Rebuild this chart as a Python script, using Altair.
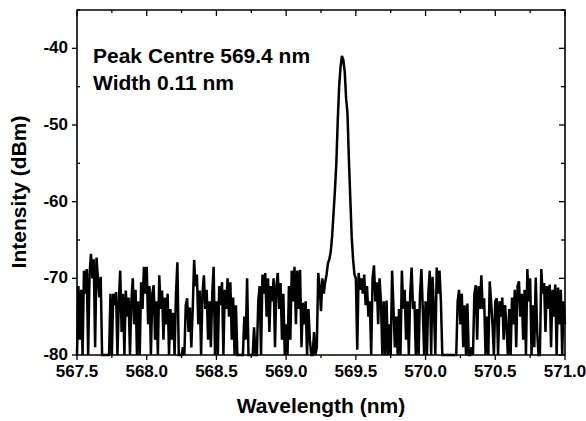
import altair as alt
import pandas as pd

wl_start = 567.50
wl_step = 0.01
intensity_rows = [
    [-80, -71, -78, -71.5, -80, -69, -72, -68.8, -80, -69.5],          # 567.50
    [-66.8, -70, -67.5, -79, -67.3, -70, -72.5, -69.8, -80, -80],      # 567.60
    [-80, -80, -80, -80, -72, -80, -72, -73.5, -71.8, -80],            # 567.70
    [-73, -69, -77, -72, -80, -71.6, -75, -72.5, -80, -73],            # 567.80
    [-70, -76, -71.5, -80, -73, -80, -70.5, -74, -68.5, -72],          # 567.90
    [-68.5, -76, -71, -80, -72, -70.9, -78, -73, -80, -69.6],          # 568.00
    [-74, -71.6, -78, -72.5, -76, -72, -80, -74, -78, -74.5],          # 568.10
    [-80, -72, -67.9, -80, -80, -80, -79, -80, -73.5, -72.6],          # 568.20
    [-77, -73.8, -79, -74, -67.6, -71, -69.5, -76, -71.6, -80],        # 568.30
    [-72, -69.6, -74, -71.5, -78, -73, -79, -72, -68.5, -80],          # 568.40
    [-73, -80, -71, -73.5, -70.5, -80, -71.5, -74, -70, -75],          # 568.50
    [-70.5, -78, -72.5, -80, -73.5, -80, -80, -80, -80, -80],          # 568.60
    [-75, -78, -70, -80, -80, -80, -80, -76.4, -80, -80],              # 568.70
    [-73, -71, -80, -69.5, -72, -69.3, -75, -70, -77, -71],            # 568.80
    [-73, -70, -79, -71, -69.3, -74, -70.6, -78, -72, -80],            # 568.90
    [-76, -80, -71, -78, -69, -73, -68.5, -76, -69, -74],              # 569.00
    [-68.9, -79, -73.2, -76, -73, -80, -74, -78, -80, -80],            # 569.10
    [-77, -80, -79, -69.3, -71, -74.3, -70, -72, -70.5, -69.5],        # 569.20
    [-68, -67.5, -66.5, -64.5, -61.5, -58.5, -55, -49.5, -45, -42.5],  # 569.30
    [-41, -41.5, -43, -46.5, -48.5, -54.5, -59.5, -64.5, -67.5, -69.5],# 569.40
    [-70, -79.3, -69.3, -71.5, -70, -72, -69.5, -73.5, -71, -75],      # 569.50
    [-73, -80, -70, -68.3, -73, -70.5, -76, -70, -73, -80],            # 569.60
    [-73, -80, -72.9, -80, -76, -80, -69, -74, -79, -75],              # 569.70
    [-80, -74, -80, -69, -74, -71.5, -78, -73, -80, -72],              # 569.80
    [-68.6, -74, -73, -80, -74, -80, -72, -68.8, -74, -80],            # 569.90
    [-73, -80, -72, -69, -80, -69.8, -74, -80, -68.6, -72],            # 570.00
    [-69, -73, -80, -80, -80, -80, -80, -80, -80, -80],                # 570.10
    [-80, -80, -80, -73, -71.5, -76, -72, -79, -73.5, -80],            # 570.20
    [-73.3, -80, -80, -79, -80, -72, -70.9, -78, -71, -74],            # 570.30
    [-69.6, -74, -72.6, -80, -75, -80, -70.4, -73, -76, -80],          # 570.40
    [-73, -72.6, -80, -73, -75, -72.5, -78, -73.5, -76, -80],          # 570.50
    [-74, -80, -72.5, -76, -71.5, -79, -71, -70.4, -75, -72],          # 570.60
    [-78, -71.5, -80, -68.8, -73, -70, -80, -73.5, -79, -69.9],        # 570.70
    [-76.8, -80, -80, -68.8, -72, -70.6, -77, -71, -74, -70.8],        # 570.80
    [-79, -71.5, -75, -70.8, -80, -71.2, -76, -71.5, -80, -73],        # 570.90
]
intensity_last = [-76]                                                  # 571.00

x_major_ticks = [567.5, 568.0, 568.5, 569.0, 569.5, 570.0, 570.5, 571.0]
x_tick_labels = ["567.5", "568.0", "568.5", "569.0", "569.5", "570.0", "570.5", "571.0"]
x_minor_ticks = [567.75, 568.25, 568.75, 569.25, 569.75, 570.25, 570.75]
y_major_ticks = [-80, -70, -60, -50, -40]
y_tick_labels = ["-80", "-70", "-60", "-50", "-40"]
y_minor_ticks = [-75, -65, -55, -45, -35]
x_title = "Wavelength (nm)"
y_title = "Intensity (dBm)"
annotation_lines = ["Peak Centre 569.4 nm", "Width 0.11 nm"]

intensity = [v for row in intensity_rows for v in row] + intensity_last
wavelength = [round(wl_start + i * wl_step, 2) for i in range(len(intensity))]
df = pd.DataFrame({"wavelength": wavelength, "intensity": intensity})

W, H = 488, 345
FONT = "Liberation Sans"
xscale = alt.Scale(domain=[567.5, 571.0], nice=False, zero=False)
yscale = alt.Scale(domain=[-80, -35], nice=False, zero=False)

line = alt.Chart(df).mark_line(color="black", strokeWidth=2.5).encode(
    x=alt.X("wavelength:Q", scale=xscale, axis=None),
    y=alt.Y("intensity:Q", scale=yscale, axis=None),
)

frame = alt.Chart(pd.DataFrame({"k": [0]})).mark_rect(
    filled=False, stroke="black", strokeWidth=1.6
).encode(x=alt.value(0), x2=alt.value(W), y=alt.value(0), y2=alt.value(H))

def xrule(values, y0, y1):
    return alt.Chart(pd.DataFrame({"tx": values})).mark_rule(
        color="black", strokeWidth=1.3
    ).encode(x=alt.X("tx:Q", scale=xscale, axis=None),
             y=alt.value(y0), y2=alt.value(y1))

def yrule(values, x0, x1):
    return alt.Chart(pd.DataFrame({"ty": values})).mark_rule(
        color="black", strokeWidth=1.3
    ).encode(y=alt.Y("ty:Q", scale=yscale, axis=None),
             x=alt.value(x0), x2=alt.value(x1))

x_labels = alt.Chart(pd.DataFrame({"tx": x_major_ticks, "lab": x_tick_labels})).mark_text(
    align="center", baseline="top", font=FONT, fontSize=17, fontWeight="bold",
    color="black",
).encode(x=alt.X("tx:Q", scale=xscale, axis=None), y=alt.value(H + 9), text="lab:N")

y_labels = alt.Chart(pd.DataFrame({"ty": y_major_ticks, "lab": y_tick_labels})).mark_text(
    align="right", baseline="middle", font=FONT, fontSize=17, fontWeight="bold",
    color="black",
).encode(y=alt.Y("ty:Q", scale=yscale, axis=None), x=alt.value(-9), text="lab:N")

x_title_mark = alt.Chart(pd.DataFrame({"t": [x_title]})).mark_text(
    align="center", baseline="alphabetic", font=FONT, fontSize=21,
    fontWeight="bold", color="black",
).encode(text="t:N", x=alt.value(W / 2), y=alt.value(H + 58))

y_title_mark = alt.Chart(pd.DataFrame({"t": [y_title]})).mark_text(
    align="center", baseline="middle", angle=270, font=FONT, fontSize=21,
    fontWeight="bold", color="black",
).encode(text="t:N", x=alt.value(-57), y=alt.value(182))

label = alt.Chart(pd.DataFrame({"t": [annotation_lines]})).mark_text(
    align="left", baseline="alphabetic", font=FONT, fontSize=21,
    fontWeight="bold", color="black", lineHeight=27,
).encode(text="t:N", x=alt.value(16), y=alt.value(53))

chart = alt.layer(
    line, frame,
    yrule(y_major_ticks, -5, 0), yrule(y_minor_ticks, 0, 3),      # left
    yrule(y_major_ticks, W - 6, W), yrule(y_minor_ticks, W - 4, W),  # right
    x_labels, y_labels, x_title_mark, y_title_mark, label,
    xrule(x_major_ticks, H, H + 5), xrule(x_minor_ticks, H, H + 3),  # bottom
    xrule(x_major_ticks, 0, 6), xrule(x_minor_ticks, 0, 3),          # top
).properties(
    width=W, height=H,
    autosize=alt.AutoSizeParams(type="none"),
    padding={"left": 77, "top": 10, "right": 21, "bottom": 66},
    background="white",
).configure_view(stroke=None)

chart.save("out.html", embed_options={"renderer": "svg", "actions": False})
